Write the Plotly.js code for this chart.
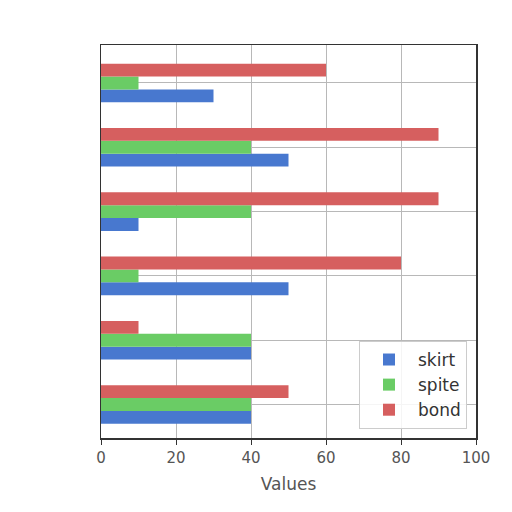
<!DOCTYPE html>
<html>
<head>
<meta charset="utf-8">
<script src="https://cdn.plot.ly/plotly-3.0.1.min.js"></script>
<style>
  html, body { margin: 0; padding: 0; background: #fff; }
  #chart { width: 512px; height: 512px; }
</style>
</head>
<body>
<div id="chart"></div>
<script>
// categories from bottom to top (no tick labels shown)
var categories = ['c1', 'c2', 'c3', 'c4', 'c5', 'c6'];
var skirt = [40, 40, 50, 10, 50, 30];
var spite = [40, 40, 10, 40, 40, 10];
var bond = [50, 10, 80, 90, 90, 60];

function barTrace(name, values, color) {
  return {
    y: categories,
    x: values,
    name: name,
    type: 'bar',
    orientation: 'h',
    marker: { color: color },
    hoverinfo: 'x+name'
  };
}

var data = [
  barTrace('skirt', skirt, '#4878CF'),
  barTrace('spite', spite, '#6ACC65'),
  barTrace('bond', bond, '#D65F5F')
];

var layout = {
  width: 512,
  height: 512,
  margin: { l: 101, r: 36, t: 45, b: 74 },
  paper_bgcolor: '#ffffff',
  plot_bgcolor: '#ffffff',
  barmode: 'group',
  bargap: 0.4,
  bargroupgap: 0,
  font: { family: 'DejaVu Sans', color: '#555555' },
  xaxis: {
    range: [0, 100],
    tickvals: [0, 20, 40, 60, 80, 100],
    ticks: 'outside',
    ticklen: 5,
    tickcolor: '#333',
    tickfont: { size: 15, color: '#555' },
    showgrid: true,
    gridcolor: '#b8b8b8',
    gridwidth: 1,
    zeroline: false,
    showline: true,
    linecolor: '#333',
    linewidth: 1.5,
    mirror: true,
    title: { text: 'Values', font: { size: 17, color: '#555' }, standoff: 12 }
  },
  yaxis: {
    type: 'category',
    range: [-0.52, 5.59],
    showticklabels: false,
    ticks: '',
    showgrid: true,
    gridcolor: '#b8b8b8',
    gridwidth: 1,
    zeroline: false,
    showline: true,
    linecolor: '#333',
    linewidth: 1.5,
    mirror: true
  },
  legend: {
    x: 0.976,
    y: 0.023,
    xanchor: 'right',
    yanchor: 'bottom',
    bgcolor: 'rgba(255,255,255,0.85)',
    bordercolor: '#cccccc',
    borderwidth: 1,
    itemwidth: 48,
    font: { size: 17, color: '#333' },
    traceorder: 'normal'
  }
};

Plotly.newPlot('chart', data, layout, { displayModeBar: false, staticPlot: true });
</script>
</body>
</html>
